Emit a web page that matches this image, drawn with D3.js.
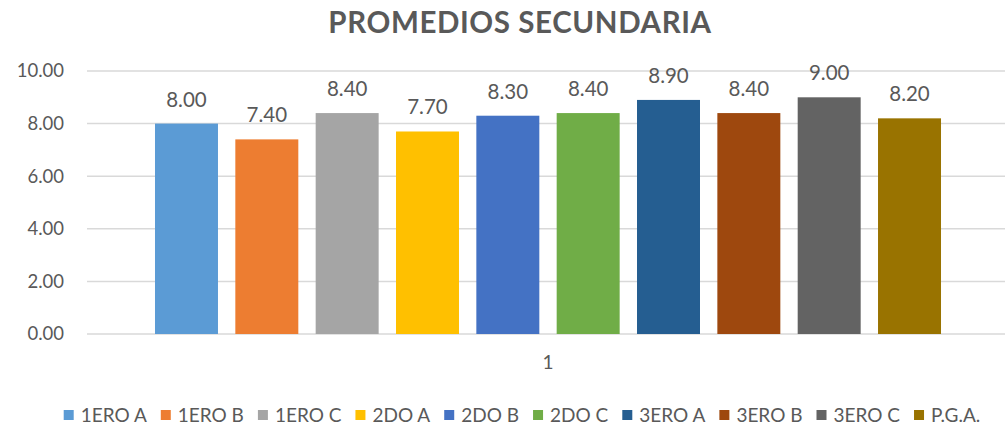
<!DOCTYPE html>
<html>
<head>
<meta charset="utf-8">
<script src="https://cdn.jsdelivr.net/npm/d3@7"></script>
<style>
  html, body { margin: 0; padding: 0; background: #fff; }
  svg { display: block; }
  text { font-family: Lato, "Open Sans", sans-serif; fill: #595959; }
</style>
</head>
<body>
<svg id="chart" width="1005" height="429"></svg>
<script>
const title = "PROMEDIOS SECUNDARIA";
const categories = ["1"];
const seriesNames = ["1ERO A", "1ERO B", "1ERO C", "2DO A", "2DO B", "2DO C", "3ERO A", "3ERO B", "3ERO C", "P.G.A."];
const seriesValues = [8.00, 7.40, 8.40, 7.70, 8.30, 8.40, 8.90, 8.40, 9.00, 8.20];
const seriesColors = ["#5B9BD5", "#ED7D31", "#A5A5A5", "#FFC000", "#4472C4", "#70AD47", "#255E91", "#9E480E", "#636363", "#997300"];
const yTicks = [0, 2, 4, 6, 8, 10];

const svg = d3.select("#chart");
const plot = { left: 87, right: 1009, top: 71, bottom: 334 };

const y = d3.scaleLinear().domain([0, 10]).range([plot.bottom, plot.top]);
const x0 = d3.scaleBand().domain(categories).range([plot.left, plot.right]).paddingInner(0).paddingOuter(0.0865);
const x1 = d3.scaleBand().domain(seriesNames).range([0, x0.bandwidth()]).paddingInner(0.216).paddingOuter(0);

// Title
svg.append("text")
  .attr("x", 520).attr("y", 33)
  .attr("text-anchor", "middle")
  .style("font-size", "29.5px").style("font-weight", "700").style("letter-spacing", "0.6px")
  .text(title);

// Gridlines + y axis
const yAxis = d3.axisLeft(y).tickValues(yTicks).tickFormat(d3.format(".2f")).tickSize(0).tickPadding(23);
const gy = svg.append("g").attr("transform", `translate(${plot.left},0)`).call(yAxis);
gy.select(".domain").remove();
gy.selectAll("text").style("font-size", "18.5px").style("fill", "#595959").style("font-family", "Lato, sans-serif");

svg.append("g").selectAll("line").data(yTicks).join("line")
  .attr("x1", plot.left).attr("x2", 1005)
  .attr("y1", d => y(d)).attr("y2", d => y(d))
  .attr("stroke", "#d9d9d9").attr("stroke-width", 1.5);

// Bars
const g = svg.append("g").attr("transform", `translate(${x0(categories[0])},0)`);
g.selectAll("rect").data(seriesNames).join("rect")
  .attr("x", d => x1(d))
  .attr("width", x1.bandwidth())
  .attr("y", (d, i) => y(seriesValues[i]))
  .attr("height", (d, i) => y(0) - y(seriesValues[i]))
  .attr("fill", (d, i) => seriesColors[i]);

// Data labels
g.selectAll("text.lbl").data(seriesNames).join("text")
  .attr("class", "lbl")
  .attr("x", d => x1(d) + x1.bandwidth() / 2)
  .attr("y", (d, i) => y(seriesValues[i]) - 17)
  .attr("text-anchor", "middle")
  .style("font-size", "20.5px")
  .text((d, i) => d3.format(".2f")(seriesValues[i]));

// X axis category label
const xAxis = d3.axisBottom(x0).tickSize(0).tickPadding(22);
const gx = svg.append("g").attr("transform", `translate(0,${plot.bottom})`).call(xAxis);
gx.select(".domain").remove();
gx.selectAll("text").style("font-size", "19px").style("fill", "#595959").style("font-family", "Lato, sans-serif");

// Legend
const legendY = 415;
const marker = 10, markerGap = 7, itemGap = 14;
const lg = svg.append("g");
const items = lg.selectAll("g").data(seriesNames).join("g");
items.append("rect").attr("width", marker).attr("height", marker).attr("y", -marker / 2)
  .attr("fill", (d, i) => seriesColors[i]);
items.append("text").attr("x", marker + markerGap).attr("dy", "0.35em")
  .style("font-size", "19px").text(d => d);
let cx = 0;
items.each(function() {
  const w = d3.select(this).select("text").node().getComputedTextLength();
  d3.select(this).attr("transform", `translate(${cx},${legendY})`);
  cx += marker + markerGap + w + itemGap;
});
const totalW = cx - itemGap;
lg.attr("transform", `translate(${522 - totalW / 2},0)`);
</script>
</body>
</html>
